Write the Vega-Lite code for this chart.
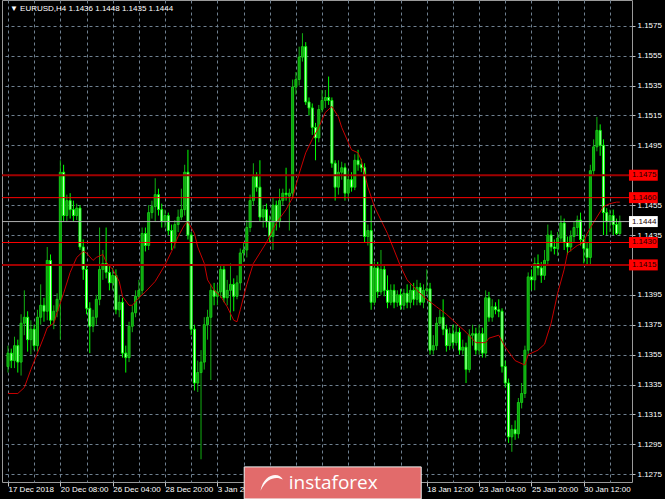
{
"$schema": "https://vega.github.io/schema/vega-lite/v6.json",
"width": 630, "height": 482,
"autosize": {"type": "none"},
"padding": {"left": 2, "top": 0, "right": 33, "bottom": 17},
"background": "#000000",
"config": {"view": {"stroke": "#9a9a9a", "strokeWidth": 1}, "font": "Liberation Sans",
"axisX": {"grid": true, "gridColor": "#6f8090", "gridDash": [3,3], "gridWidth": 1, "domain": false, "title": null, "labelColor": "#ffffff", "labelFont": "Liberation Sans", "labelFontSize": 8, "tickColor": "#c0c0c0"},
"axisY": {"grid": true, "gridColor": "#6f8090", "gridDash": [3,3], "gridWidth": 1, "domain": false, "title": null, "labelColor": "#ffffff", "labelFont": "Liberation Sans", "labelFontSize": 8, "tickColor": "#c0c0c0"}},
"datasets": {
"candles": [
{"i":0,"o":1.1347,"h":1.1361,"l":1.1343,"c":1.1356},
{"i":1,"o":1.1356,"h":1.1359,"l":1.1346,"c":1.1351},
{"i":2,"o":1.1351,"h":1.1367,"l":1.1346,"c":1.1361},
{"i":3,"o":1.1361,"h":1.1365,"l":1.1343,"c":1.1350},
{"i":4,"o":1.1350,"h":1.1382,"l":1.1341,"c":1.1376},
{"i":5,"o":1.1376,"h":1.1398,"l":1.1368,"c":1.1380},
{"i":6,"o":1.1380,"h":1.1384,"l":1.1357,"c":1.1365},
{"i":7,"o":1.1365,"h":1.1378,"l":1.1355,"c":1.1372},
{"i":8,"o":1.1372,"h":1.1375,"l":1.1358,"c":1.1361},
{"i":9,"o":1.1361,"h":1.1385,"l":1.1357,"c":1.1380},
{"i":10,"o":1.1380,"h":1.1402,"l":1.1375,"c":1.1388},
{"i":11,"o":1.1388,"h":1.1393,"l":1.1377,"c":1.1384},
{"i":12,"o":1.1384,"h":1.1427,"l":1.1378,"c":1.1418},
{"i":13,"o":1.1418,"h":1.1422,"l":1.1375,"c":1.1378},
{"i":14,"o":1.1378,"h":1.1388,"l":1.1372,"c":1.1384},
{"i":15,"o":1.1384,"h":1.1396,"l":1.1380,"c":1.1392},
{"i":16,"o":1.1392,"h":1.1485,"l":1.1365,"c":1.1477},
{"i":17,"o":1.1477,"h":1.1482,"l":1.1444,"c":1.1448},
{"i":18,"o":1.1448,"h":1.1462,"l":1.1444,"c":1.1458},
{"i":19,"o":1.1458,"h":1.1463,"l":1.1446,"c":1.1452},
{"i":20,"o":1.1452,"h":1.1458,"l":1.1444,"c":1.1448},
{"i":21,"o":1.1448,"h":1.1456,"l":1.1445,"c":1.1453},
{"i":22,"o":1.1453,"h":1.1455,"l":1.1425,"c":1.1427},
{"i":23,"o":1.1427,"h":1.1432,"l":1.1405,"c":1.1412},
{"i":24,"o":1.1412,"h":1.1415,"l":1.1382,"c":1.1386},
{"i":25,"o":1.1386,"h":1.1390,"l":1.1356,"c":1.1374},
{"i":26,"o":1.1374,"h":1.1385,"l":1.1370,"c":1.1380},
{"i":27,"o":1.1380,"h":1.1395,"l":1.1375,"c":1.1392},
{"i":28,"o":1.1392,"h":1.1440,"l":1.1388,"c":1.1412},
{"i":29,"o":1.1412,"h":1.1425,"l":1.1405,"c":1.1416},
{"i":30,"o":1.1416,"h":1.1440,"l":1.1406,"c":1.1410},
{"i":31,"o":1.1410,"h":1.1415,"l":1.1398,"c":1.1403},
{"i":32,"o":1.1403,"h":1.1413,"l":1.1398,"c":1.1408},
{"i":33,"o":1.1408,"h":1.1412,"l":1.1382,"c":1.1385},
{"i":34,"o":1.1385,"h":1.1395,"l":1.1380,"c":1.1390},
{"i":35,"o":1.1390,"h":1.1393,"l":1.1353,"c":1.1356},
{"i":36,"o":1.1356,"h":1.1361,"l":1.1343,"c":1.1353},
{"i":37,"o":1.1353,"h":1.1377,"l":1.1350,"c":1.1374},
{"i":38,"o":1.1374,"h":1.1388,"l":1.1370,"c":1.1383},
{"i":39,"o":1.1383,"h":1.1398,"l":1.1380,"c":1.1394},
{"i":40,"o":1.1394,"h":1.1405,"l":1.1392,"c":1.1398},
{"i":41,"o":1.1398,"h":1.1440,"l":1.1395,"c":1.1436},
{"i":42,"o":1.1436,"h":1.1440,"l":1.1424,"c":1.1428},
{"i":43,"o":1.1428,"h":1.1455,"l":1.1425,"c":1.1450},
{"i":44,"o":1.1450,"h":1.1458,"l":1.1446,"c":1.1454},
{"i":45,"o":1.1454,"h":1.1473,"l":1.1444,"c":1.1462},
{"i":46,"o":1.1462,"h":1.1466,"l":1.1448,"c":1.1452},
{"i":47,"o":1.1452,"h":1.1456,"l":1.1440,"c":1.1444},
{"i":48,"o":1.1444,"h":1.1452,"l":1.1440,"c":1.1448},
{"i":49,"o":1.1448,"h":1.1450,"l":1.1435,"c":1.1438},
{"i":50,"o":1.1438,"h":1.1442,"l":1.1425,"c":1.1430},
{"i":51,"o":1.1430,"h":1.1445,"l":1.1426,"c":1.1442},
{"i":52,"o":1.1442,"h":1.1452,"l":1.1437,"c":1.1447},
{"i":53,"o":1.1447,"h":1.1466,"l":1.1445,"c":1.1452},
{"i":54,"o":1.1452,"h":1.1482,"l":1.1448,"c":1.1477},
{"i":55,"o":1.1477,"h":1.1492,"l":1.1432,"c":1.1435},
{"i":56,"o":1.1435,"h":1.1437,"l":1.1368,"c":1.1372},
{"i":57,"o":1.1372,"h":1.1375,"l":1.1331,"c":1.1336},
{"i":58,"o":1.1336,"h":1.1351,"l":1.1330,"c":1.1343},
{"i":59,"o":1.1343,"h":1.1358,"l":1.1285,"c":1.1350},
{"i":60,"o":1.1350,"h":1.1380,"l":1.1345,"c":1.1375},
{"i":61,"o":1.1375,"h":1.1385,"l":1.1365,"c":1.1380},
{"i":62,"o":1.1380,"h":1.1402,"l":1.1338,"c":1.1398},
{"i":63,"o":1.1398,"h":1.1403,"l":1.1388,"c":1.1394},
{"i":64,"o":1.1394,"h":1.1402,"l":1.1388,"c":1.1397},
{"i":65,"o":1.1397,"h":1.1415,"l":1.1393,"c":1.1412},
{"i":66,"o":1.1412,"h":1.1415,"l":1.1390,"c":1.1393},
{"i":67,"o":1.1393,"h":1.1405,"l":1.1388,"c":1.1398},
{"i":68,"o":1.1398,"h":1.1416,"l":1.1378,"c":1.1402},
{"i":69,"o":1.1402,"h":1.1406,"l":1.1384,"c":1.1394},
{"i":70,"o":1.1394,"h":1.1408,"l":1.1392,"c":1.1403},
{"i":71,"o":1.1403,"h":1.1426,"l":1.1398,"c":1.1423},
{"i":72,"o":1.1423,"h":1.1430,"l":1.1417,"c":1.1425},
{"i":73,"o":1.1425,"h":1.1445,"l":1.1420,"c":1.1440},
{"i":74,"o":1.1440,"h":1.1462,"l":1.1437,"c":1.1458},
{"i":75,"o":1.1458,"h":1.1483,"l":1.1455,"c":1.1474},
{"i":76,"o":1.1474,"h":1.1477,"l":1.1464,"c":1.1467},
{"i":77,"o":1.1467,"h":1.1485,"l":1.1444,"c":1.1447},
{"i":78,"o":1.1447,"h":1.1455,"l":1.1440,"c":1.1452},
{"i":79,"o":1.1452,"h":1.1456,"l":1.1440,"c":1.1444},
{"i":80,"o":1.1444,"h":1.1448,"l":1.1430,"c":1.1434},
{"i":81,"o":1.1434,"h":1.1460,"l":1.1425,"c":1.1455},
{"i":82,"o":1.1455,"h":1.1458,"l":1.1438,"c":1.1444},
{"i":83,"o":1.1444,"h":1.1466,"l":1.1440,"c":1.1458},
{"i":84,"o":1.1458,"h":1.1466,"l":1.1455,"c":1.1463},
{"i":85,"o":1.1463,"h":1.1480,"l":1.1458,"c":1.1462},
{"i":86,"o":1.1461,"h":1.1466,"l":1.1438,"c":1.1463},
{"i":87,"o":1.1463,"h":1.1539,"l":1.1460,"c":1.1534},
{"i":88,"o":1.1534,"h":1.1544,"l":1.1529,"c":1.1539},
{"i":89,"o":1.1539,"h":1.1561,"l":1.1535,"c":1.1554},
{"i":90,"o":1.1554,"h":1.1570,"l":1.1551,"c":1.1561},
{"i":91,"o":1.1561,"h":1.1564,"l":1.1522,"c":1.1524},
{"i":92,"o":1.1524,"h":1.1527,"l":1.1515,"c":1.1520},
{"i":93,"o":1.1520,"h":1.1523,"l":1.1502,"c":1.1507},
{"i":94,"o":1.1507,"h":1.1510,"l":1.1485,"c":1.1500},
{"i":95,"o":1.1500,"h":1.1522,"l":1.1497,"c":1.1519},
{"i":96,"o":1.1519,"h":1.1532,"l":1.1517,"c":1.1525},
{"i":97,"o":1.1525,"h":1.1532,"l":1.1520,"c":1.1527},
{"i":98,"o":1.1527,"h":1.1541,"l":1.1522,"c":1.1525},
{"i":99,"o":1.1525,"h":1.1527,"l":1.1480,"c":1.1483},
{"i":100,"o":1.1483,"h":1.1485,"l":1.1458,"c":1.1467},
{"i":101,"o":1.1467,"h":1.1485,"l":1.1462,"c":1.1477},
{"i":102,"o":1.1477,"h":1.1484,"l":1.1472,"c":1.1480},
{"i":103,"o":1.1480,"h":1.1483,"l":1.1458,"c":1.1463},
{"i":104,"o":1.1463,"h":1.1478,"l":1.1459,"c":1.1472},
{"i":105,"o":1.1472,"h":1.1477,"l":1.1464,"c":1.1467},
{"i":106,"o":1.1467,"h":1.1489,"l":1.1465,"c":1.1485},
{"i":107,"o":1.1485,"h":1.1492,"l":1.1478,"c":1.1482},
{"i":108,"o":1.1482,"h":1.1486,"l":1.1477,"c":1.1480},
{"i":109,"o":1.1480,"h":1.1483,"l":1.1430,"c":1.1434},
{"i":110,"o":1.1434,"h":1.1442,"l":1.1428,"c":1.1438},
{"i":111,"o":1.1438,"h":1.1455,"l":1.1385,"c":1.1390},
{"i":112,"o":1.1390,"h":1.1417,"l":1.1388,"c":1.1413},
{"i":113,"o":1.1413,"h":1.1417,"l":1.1393,"c":1.1397},
{"i":114,"o":1.1397,"h":1.1425,"l":1.1395,"c":1.1412},
{"i":115,"o":1.1412,"h":1.1415,"l":1.1394,"c":1.1398},
{"i":116,"o":1.1398,"h":1.1408,"l":1.1386,"c":1.1390},
{"i":117,"o":1.1390,"h":1.1402,"l":1.1388,"c":1.1398},
{"i":118,"o":1.1398,"h":1.1402,"l":1.1386,"c":1.1390},
{"i":119,"o":1.1390,"h":1.1398,"l":1.1387,"c":1.1395},
{"i":120,"o":1.1395,"h":1.1399,"l":1.1385,"c":1.1388},
{"i":121,"o":1.1388,"h":1.1399,"l":1.1385,"c":1.1396},
{"i":122,"o":1.1396,"h":1.1402,"l":1.1386,"c":1.1390},
{"i":123,"o":1.1390,"h":1.1402,"l":1.1386,"c":1.1398},
{"i":124,"o":1.1398,"h":1.1403,"l":1.1388,"c":1.1392},
{"i":125,"o":1.1392,"h":1.1405,"l":1.1388,"c":1.1400},
{"i":126,"o":1.1400,"h":1.1403,"l":1.1388,"c":1.1390},
{"i":127,"o":1.1390,"h":1.1402,"l":1.1386,"c":1.1398},
{"i":128,"o":1.1398,"h":1.1412,"l":1.1395,"c":1.1399},
{"i":129,"o":1.1399,"h":1.1403,"l":1.1355,"c":1.1358},
{"i":130,"o":1.1358,"h":1.1368,"l":1.1355,"c":1.1361},
{"i":131,"o":1.1361,"h":1.1380,"l":1.1358,"c":1.1376},
{"i":132,"o":1.1376,"h":1.1385,"l":1.1374,"c":1.1380},
{"i":133,"o":1.1380,"h":1.1392,"l":1.1368,"c":1.1372},
{"i":134,"o":1.1372,"h":1.1375,"l":1.1357,"c":1.1361},
{"i":135,"o":1.1361,"h":1.1373,"l":1.1358,"c":1.1369},
{"i":136,"o":1.1369,"h":1.1375,"l":1.1359,"c":1.1363},
{"i":137,"o":1.1363,"h":1.1375,"l":1.1361,"c":1.1370},
{"i":138,"o":1.1370,"h":1.1373,"l":1.1355,"c":1.1358},
{"i":139,"o":1.1358,"h":1.1365,"l":1.1355,"c":1.1360},
{"i":140,"o":1.1360,"h":1.1363,"l":1.1336,"c":1.1345},
{"i":141,"o":1.1345,"h":1.1372,"l":1.1343,"c":1.1368},
{"i":142,"o":1.1368,"h":1.1375,"l":1.1361,"c":1.1369},
{"i":143,"o":1.1369,"h":1.1373,"l":1.1355,"c":1.1358},
{"i":144,"o":1.1358,"h":1.1375,"l":1.1355,"c":1.1369},
{"i":145,"o":1.1369,"h":1.1373,"l":1.1353,"c":1.1356},
{"i":146,"o":1.1356,"h":1.1398,"l":1.1353,"c":1.1393},
{"i":147,"o":1.1393,"h":1.1397,"l":1.1377,"c":1.1380},
{"i":148,"o":1.1380,"h":1.1392,"l":1.1377,"c":1.1387},
{"i":149,"o":1.1387,"h":1.1390,"l":1.1382,"c":1.1385},
{"i":150,"o":1.1385,"h":1.1392,"l":1.1380,"c":1.1384},
{"i":151,"o":1.1384,"h":1.1386,"l":1.1343,"c":1.1347},
{"i":152,"o":1.1347,"h":1.1351,"l":1.1333,"c":1.1336},
{"i":153,"o":1.1336,"h":1.1339,"l":1.1296,"c":1.1300},
{"i":154,"o":1.1300,"h":1.1308,"l":1.1290,"c":1.1305},
{"i":155,"o":1.1305,"h":1.1311,"l":1.1298,"c":1.1302},
{"i":156,"o":1.1302,"h":1.1326,"l":1.1299,"c":1.1323},
{"i":157,"o":1.1323,"h":1.1336,"l":1.1319,"c":1.1329},
{"i":158,"o":1.1329,"h":1.1361,"l":1.1326,"c":1.1358},
{"i":159,"o":1.1358,"h":1.1410,"l":1.1355,"c":1.1407},
{"i":160,"o":1.1407,"h":1.1412,"l":1.1398,"c":1.1405},
{"i":161,"o":1.1405,"h":1.1420,"l":1.1398,"c":1.1416},
{"i":162,"o":1.1416,"h":1.1422,"l":1.1408,"c":1.1413},
{"i":163,"o":1.1413,"h":1.1417,"l":1.1403,"c":1.1408},
{"i":164,"o":1.1408,"h":1.1425,"l":1.1405,"c":1.1418},
{"i":165,"o":1.1418,"h":1.1442,"l":1.1415,"c":1.1435},
{"i":166,"o":1.1435,"h":1.1438,"l":1.1424,"c":1.1427},
{"i":167,"o":1.1427,"h":1.1432,"l":1.1422,"c":1.1426},
{"i":168,"o":1.1426,"h":1.1437,"l":1.1421,"c":1.1433},
{"i":169,"o":1.1433,"h":1.1448,"l":1.1430,"c":1.1443},
{"i":170,"o":1.1443,"h":1.1446,"l":1.1425,"c":1.1430},
{"i":171,"o":1.1430,"h":1.1434,"l":1.1422,"c":1.1427},
{"i":172,"o":1.1427,"h":1.1438,"l":1.1424,"c":1.1434},
{"i":173,"o":1.1434,"h":1.1444,"l":1.1430,"c":1.1440},
{"i":174,"o":1.1440,"h":1.1448,"l":1.1435,"c":1.1445},
{"i":175,"o":1.1445,"h":1.1450,"l":1.1428,"c":1.1432},
{"i":176,"o":1.1432,"h":1.1435,"l":1.1416,"c":1.1426},
{"i":177,"o":1.1426,"h":1.1430,"l":1.1415,"c":1.1420},
{"i":178,"o":1.1420,"h":1.1482,"l":1.1415,"c":1.1478},
{"i":179,"o":1.1478,"h":1.1499,"l":1.1475,"c":1.1494},
{"i":180,"o":1.1494,"h":1.1514,"l":1.1491,"c":1.1505},
{"i":181,"o":1.1505,"h":1.1509,"l":1.1488,"c":1.1495},
{"i":182,"o":1.1495,"h":1.1499,"l":1.1435,"c":1.1450},
{"i":183,"o":1.1450,"h":1.1453,"l":1.1435,"c":1.1444},
{"i":184,"o":1.1444,"h":1.1452,"l":1.1437,"c":1.1448},
{"i":185,"o":1.1448,"h":1.1452,"l":1.1435,"c":1.1442},
{"i":186,"o":1.1442,"h":1.1446,"l":1.1435,"c":1.1436},
{"i":187,"o":1.1436,"h":1.1448,"l":1.1435,"c":1.1444}
],
"ma": [
{"i":0,"v":1.1329},{"i":3,"v":1.1329},{"i":5,"v":1.1333},{"i":7,"v":1.1345},{"i":9,"v":1.1356},{"i":11,"v":1.1367},{"i":12,"v":1.1373},{"i":14,"v":1.1376},{"i":15,"v":1.1383},{"i":17,"v":1.1396},{"i":19,"v":1.1410},{"i":21,"v":1.1420},{"i":23,"v":1.1424},{"i":24,"v":1.1423},{"i":26,"v":1.1418},{"i":27,"v":1.1420},{"i":29,"v":1.1422},{"i":30,"v":1.1417},{"i":32,"v":1.1412},{"i":34,"v":1.1404},{"i":35,"v":1.1394},{"i":37,"v":1.1388},{"i":38,"v":1.1388},{"i":40,"v":1.1393},{"i":42,"v":1.1397},{"i":45,"v":1.1404},{"i":48,"v":1.1415},{"i":50,"v":1.1424},{"i":52,"v":1.1434},{"i":54,"v":1.1442},{"i":55,"v":1.1444},{"i":57,"v":1.1436},{"i":58,"v":1.1427},{"i":60,"v":1.1416},{"i":61,"v":1.1405},{"i":63,"v":1.1398},{"i":65,"v":1.1394},{"i":67,"v":1.1387},{"i":69,"v":1.1378},{"i":70,"v":1.1377},{"i":71,"v":1.1385},{"i":73,"v":1.1402},{"i":75,"v":1.1416},{"i":79,"v":1.1430},{"i":82,"v":1.1443},{"i":85,"v":1.1452},{"i":87,"v":1.1460},{"i":89,"v":1.1476},{"i":91,"v":1.1490},{"i":93,"v":1.1499},{"i":95,"v":1.1507},{"i":97,"v":1.1517},{"i":99,"v":1.1521},{"i":101,"v":1.1514},{"i":102,"v":1.1507},{"i":104,"v":1.1497},{"i":105,"v":1.1492},{"i":107,"v":1.1490},{"i":108,"v":1.1485},{"i":110,"v":1.1467},{"i":112,"v":1.1454},{"i":114,"v":1.1445},{"i":116,"v":1.1436},{"i":118,"v":1.1425},{"i":120,"v":1.1414},{"i":122,"v":1.1405},{"i":125,"v":1.1398},{"i":128,"v":1.1392},{"i":131,"v":1.1387},{"i":134,"v":1.1382},{"i":137,"v":1.1376},{"i":140,"v":1.1370},{"i":143,"v":1.1363},{"i":146,"v":1.1363},{"i":147,"v":1.1366},{"i":150,"v":1.1368},{"i":152,"v":1.1360},{"i":155,"v":1.1351},{"i":158,"v":1.1348},{"i":159,"v":1.1355},{"i":162,"v":1.1358},{"i":164,"v":1.1362},{"i":166,"v":1.1376},{"i":168,"v":1.1396},{"i":170,"v":1.1412},{"i":171,"v":1.1423},{"i":174,"v":1.1428},{"i":176,"v":1.1430},{"i":177,"v":1.1436},{"i":180,"v":1.1447},{"i":182,"v":1.1454},{"i":184,"v":1.1456},{"i":186,"v":1.1457},{"i":187,"v":1.1457}
],
"levels": [{"p":1.1475},{"p":1.1460},{"p":1.1444},{"p":1.1430},{"p":1.1415}],
"brand": [{"name":"instaforex"}],
"header": [{"text":"▼  EURUSD,H4  1.1436 1.1448 1.1435 1.1444"}]
},
"encoding": {
"x": {"type": "quantitative", "scale": {"domain": [-0.3, 189.2], "nice": false, "zero": false},
"axis": {"orient": "bottom", "values": [0,8,16,24,32,40,48,56,64,72,80,88,96,104,112,120,128,136,144,152,160,168,176,184],
"labelExpr": "datum.value % 16 === 0 ? ['17 Dec 2018','20 Dec 08:00','26 Dec 04:00','28 Dec 20:00','3 Jan 20:00','','','','18 Jan 12:00','23 Jan 04:00','25 Jan 20:00','30 Jan 12:00'][datum.value / 16] : ''",
"labelAlign": "left", "labelBaseline": "top", "labelPadding": -1, "labelOverlap": false, "labelBound": false, "labelFlush": false,
"tickSize": 4, "tickOpacity": {"condition": {"test": "datum.value % 16 === 0", "value": 1}, "value": 0}, "title": null}},
"y": {"type": "quantitative", "scale": {"domain": [1.12698, 1.15922], "nice": false, "zero": false},
"axis": {"orient": "right", "values": [1.1275,1.1295,1.1315,1.1335,1.1355,1.1375,1.1395,1.1415,1.1435,1.1455,1.1475,1.1495,1.1515,1.1535,1.1555,1.1575],
"format": ".4f", "labelExpr": "(datum.label === '1.1475' || datum.label === '1.1415') ? '' : datum.label",
"labelPadding": 2, "labelBaseline": "middle", "labelBound": false, "labelFlush": false, "labelOverlap": false, "tickSize": 3, "title": null}}
},
"layer": [
{
"data": {"name": "candles"},
"mark": {"type": "rule", "strokeWidth": 1},
"encoding": {
"x": {"field": "i"},
"y": {"field": "l"},
"y2": {"field": "h"},
"color": {"condition": {"test": "datum.c >= datum.o", "value": "#12b012"}, "value": "#00ff00"}
}
},
{
"data": {"name": "candles"},
"mark": {"type": "bar", "size": 2, "strokeWidth": 1},
"encoding": {
"x": {"field": "i"},
"y": {"field": "o"},
"y2": {"field": "c"},
"fill": {"condition": {"test": "datum.c >= datum.o", "value": "#0c9c0c"}, "value": "#d0ffd0"},
"stroke": {"condition": {"test": "datum.c >= datum.o", "value": "#16c816"}, "value": "#00ff00"}
}
},
{
"data": {"name": "ma"},
"mark": {"type": "line", "color": "#c80000", "strokeWidth": 1},
"encoding": {
"x": {"field": "i"},
"y": {"field": "v"}
}
},
{
"data": {"name": "levels"},
"mark": {"type": "rule"},
"encoding": {
"x": null,
"y": {"field": "p"},
"color": {"condition": [{"test": "datum.p === 1.1444", "value": "#b0b0b0"}, {"test": "datum.p === 1.1475 || datum.p === 1.1415", "value": "#a00000"}], "value": "#ff0000"},
"strokeWidth": {"condition": {"test": "datum.p === 1.1475 || datum.p === 1.1415", "value": 2}, "value": 1}
}
},
{
"data": {"name": "levels"},
"mark": {"type": "rule", "strokeWidth": 11, "strokeCap": "butt"},
"encoding": {
"x": {"datum": 189.8},
"x2": {"datum": 198.6},
"y": {"field": "p"},
"color": {"condition": {"test": "datum.p === 1.1444", "value": "#ffffff"}, "value": "#ff0000"}
}
},
{
"data": {"name": "levels"},
"mark": {"type": "text", "align": "left", "baseline": "middle", "fontSize": 8, "font": "Liberation Sans", "color": "#1a0000"},
"encoding": {
"x": {"datum": 190.7},
"y": {"field": "p"},
"text": {"field": "p", "type": "quantitative", "format": ".4f"}
}
},
{
"data": {"name": "brand"},
"mark": {"type": "rect", "fill": "#e26b6b", "stroke": "#f0f0f0", "strokeWidth": 1},
"encoding": {
"x": {"datum": 72.2},
"x2": {"datum": 126.3},
"y": {"datum": 1.12799},
"y2": {"datum": 1.12585}
}
},
{
"data": {"name": "brand"},
"mark": {"type": "point", "shape": "M -1 0.7 C -0.7 -0.9 0.7 -1 1 -0.3 C 0.4 -0.6 -0.4 -0.5 -1 0.7 Z", "filled": true, "color": "#ffffff", "opacity": 0.95, "size": 500},
"encoding": {
"x": {"datum": 80.6},
"y": {"datum": 1.12692}
}
},
{
"data": {"name": "brand"},
"mark": {"type": "text", "fontSize": 19, "font": "Open Sans", "color": "#ffffff", "align": "center", "baseline": "middle"},
"encoding": {
"x": {"datum": 99.4},
"y": {"datum": 1.12692},
"text": {"field": "name"}
}
},
{
"data": {"name": "header"},
"mark": {"type": "text", "fontSize": 8, "font": "Liberation Sans", "color": "#ffffff", "align": "left", "baseline": "middle"},
"encoding": {
"x": {"datum": 0.6},
"y": {"datum": 1.15862},
"text": {"field": "text"}
}
}
]
}
